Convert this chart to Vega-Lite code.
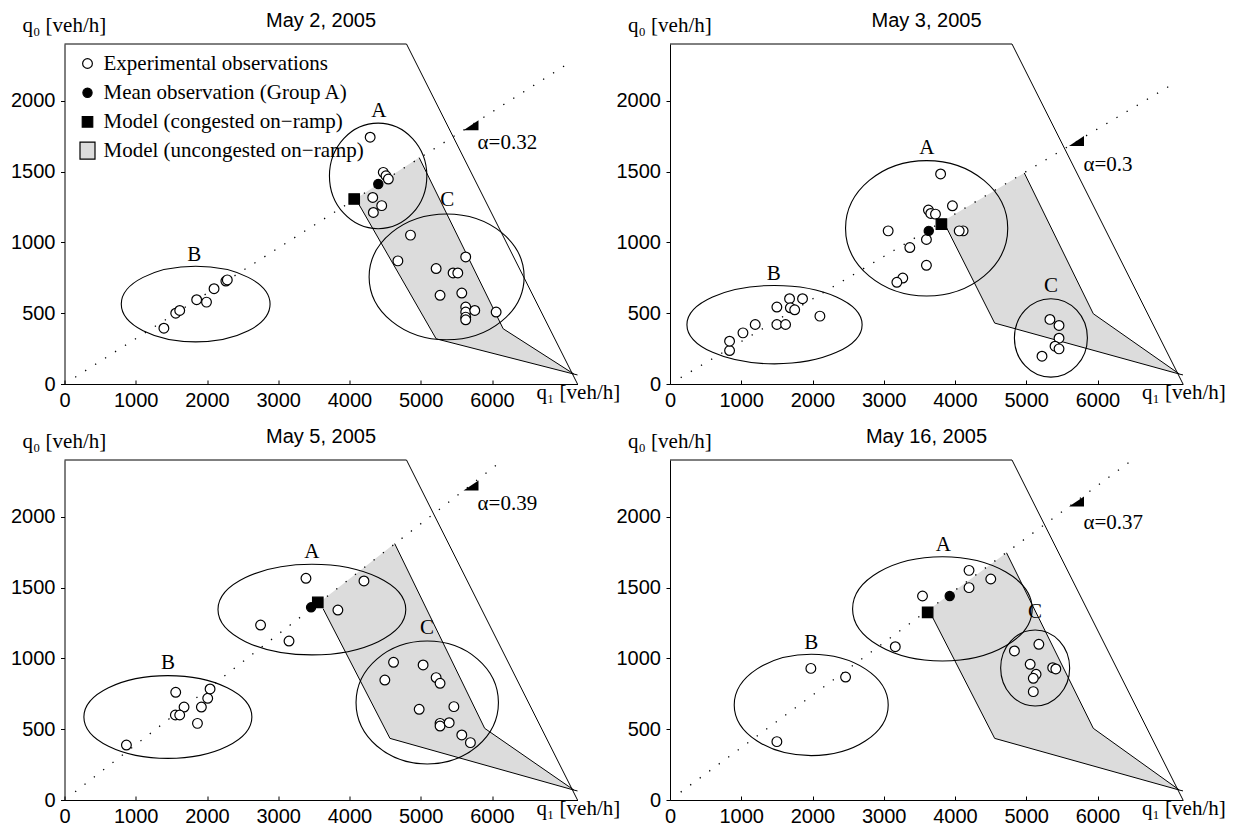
{
"$schema": "https://vega.github.io/schema/vega-lite/v6.json",
"padding": {"left": 10.5, "top": 11, "right": 5, "bottom": 3},
"background": "white",
"config": {
  "view": {"stroke": null},
  "font": "Liberation Sans",
  "axis": {"grid": false, "domainColor": "black", "domainWidth": 1, "tickColor": "black", "tickWidth": 1, "labelColor": "black", "labelFont": "Liberation Sans", "labelFontSize": 20, "labelFlush": false, "labelOverlap": false, "titleColor": "black", "titleFont": "Liberation Serif", "titleFontSize": 21, "titleFontWeight": "normal", "format": "d"}
},
"data": {"values": [
{"p":"May 2, 2005","t":"reg","o":1,"x":4100,"y":1312},{"p":"May 2, 2005","t":"reg","o":2,"x":4978,"y":1598},{"p":"May 2, 2005","t":"reg","o":3,"x":6157,"y":390},{"p":"May 2, 2005","t":"reg","o":4,"x":7150,"y":70},{"p":"May 2, 2005","t":"reg","o":5,"x":5216,"y":319},{"p":"May 2, 2005","t":"reg","o":6,"x":4130,"y":1270},
{"p":"May 3, 2005","t":"reg","o":1,"x":3830,"y":1149},{"p":"May 3, 2005","t":"reg","o":2,"x":4972,"y":1490},{"p":"May 3, 2005","t":"reg","o":3,"x":5941,"y":496},{"p":"May 3, 2005","t":"reg","o":4,"x":7150,"y":70},{"p":"May 3, 2005","t":"reg","o":5,"x":4557,"y":430},{"p":"May 3, 2005","t":"reg","o":6,"x":3880,"y":1105},
{"p":"May 5, 2005","t":"reg","o":1,"x":3590,"y":1400},{"p":"May 5, 2005","t":"reg","o":2,"x":4634,"y":1810},{"p":"May 5, 2005","t":"reg","o":3,"x":5897,"y":506},{"p":"May 5, 2005","t":"reg","o":4,"x":7150,"y":70},{"p":"May 5, 2005","t":"reg","o":5,"x":4568,"y":435},{"p":"May 5, 2005","t":"reg","o":6,"x":3630,"y":1350},
{"p":"May 16, 2005","t":"reg","o":1,"x":3650,"y":1350},{"p":"May 16, 2005","t":"reg","o":2,"x":4723,"y":1745},{"p":"May 16, 2005","t":"reg","o":3,"x":5941,"y":506},{"p":"May 16, 2005","t":"reg","o":4,"x":7150,"y":70},{"p":"May 16, 2005","t":"reg","o":5,"x":4557,"y":435},{"p":"May 16, 2005","t":"reg","o":6,"x":3690,"y":1285},

{"p":"May 2, 2005","t":"ln","s":"f","o":1,"x":0,"y":2400},{"p":"May 2, 2005","t":"ln","s":"f","o":2,"x":4800,"y":2400},{"p":"May 2, 2005","t":"ln","s":"f","o":3,"x":7200,"y":0},
{"p":"May 2, 2005","t":"ln","s":"lo","o":1,"x":4130,"y":1270},{"p":"May 2, 2005","t":"ln","s":"lo","o":2,"x":5216,"y":319},{"p":"May 2, 2005","t":"ln","s":"lo","o":3,"x":7150,"y":70},{"p":"May 2, 2005","t":"ln","s":"lo","o":4,"x":7200,"y":64},
{"p":"May 2, 2005","t":"ln","s":"up","o":1,"x":4978,"y":1598},{"p":"May 2, 2005","t":"ln","s":"up","o":2,"x":6157,"y":390},{"p":"May 2, 2005","t":"ln","s":"up","o":3,"x":7150,"y":70},
{"p":"May 3, 2005","t":"ln","s":"f","o":1,"x":0,"y":2400},{"p":"May 3, 2005","t":"ln","s":"f","o":2,"x":4800,"y":2400},{"p":"May 3, 2005","t":"ln","s":"f","o":3,"x":7200,"y":0},
{"p":"May 3, 2005","t":"ln","s":"lo","o":1,"x":3880,"y":1105},{"p":"May 3, 2005","t":"ln","s":"lo","o":2,"x":4557,"y":430},{"p":"May 3, 2005","t":"ln","s":"lo","o":3,"x":7150,"y":70},{"p":"May 3, 2005","t":"ln","s":"lo","o":4,"x":7200,"y":64},
{"p":"May 3, 2005","t":"ln","s":"up","o":1,"x":4972,"y":1490},{"p":"May 3, 2005","t":"ln","s":"up","o":2,"x":5941,"y":496},{"p":"May 3, 2005","t":"ln","s":"up","o":3,"x":7150,"y":70},
{"p":"May 5, 2005","t":"ln","s":"f","o":1,"x":0,"y":2400},{"p":"May 5, 2005","t":"ln","s":"f","o":2,"x":4800,"y":2400},{"p":"May 5, 2005","t":"ln","s":"f","o":3,"x":7200,"y":0},
{"p":"May 5, 2005","t":"ln","s":"lo","o":1,"x":3630,"y":1350},{"p":"May 5, 2005","t":"ln","s":"lo","o":2,"x":4568,"y":435},{"p":"May 5, 2005","t":"ln","s":"lo","o":3,"x":7150,"y":70},{"p":"May 5, 2005","t":"ln","s":"lo","o":4,"x":7200,"y":64},
{"p":"May 5, 2005","t":"ln","s":"up","o":1,"x":4634,"y":1810},{"p":"May 5, 2005","t":"ln","s":"up","o":2,"x":5897,"y":506},{"p":"May 5, 2005","t":"ln","s":"up","o":3,"x":7150,"y":70},
{"p":"May 16, 2005","t":"ln","s":"f","o":1,"x":0,"y":2400},{"p":"May 16, 2005","t":"ln","s":"f","o":2,"x":4800,"y":2400},{"p":"May 16, 2005","t":"ln","s":"f","o":3,"x":7200,"y":0},
{"p":"May 16, 2005","t":"ln","s":"lo","o":1,"x":3690,"y":1285},{"p":"May 16, 2005","t":"ln","s":"lo","o":2,"x":4557,"y":435},{"p":"May 16, 2005","t":"ln","s":"lo","o":3,"x":7150,"y":70},{"p":"May 16, 2005","t":"ln","s":"lo","o":4,"x":7200,"y":64},
{"p":"May 16, 2005","t":"ln","s":"up","o":1,"x":4723,"y":1745},{"p":"May 16, 2005","t":"ln","s":"up","o":2,"x":5941,"y":506},{"p":"May 16, 2005","t":"ln","s":"up","o":3,"x":7150,"y":70},

{"p":"May 2, 2005","t":"diag","o":1,"x":150,"y":48},{"p":"May 2, 2005","t":"diag","o":2,"x":7100,"y":2272},
{"p":"May 3, 2005","t":"diag","o":1,"x":150,"y":45},{"p":"May 3, 2005","t":"diag","o":2,"x":7100,"y":2130},
{"p":"May 5, 2005","t":"diag","o":1,"x":150,"y":58.5},{"p":"May 5, 2005","t":"diag","o":2,"x":7100,"y":2769},
{"p":"May 16, 2005","t":"diag","o":1,"x":150,"y":55.5},{"p":"May 16, 2005","t":"diag","o":2,"x":7100,"y":2627},

{"p":"May 2, 2005","t":"ell","e":"A1","x":4402,"y":1469},{"p":"May 2, 2005","t":"ell","e":"B1","x":1841,"y":564},{"p":"May 2, 2005","t":"ell","e":"C1","x":5363,"y":756},
{"p":"May 3, 2005","t":"ell","e":"A2","x":3602,"y":1099},{"p":"May 3, 2005","t":"ell","e":"B2","x":1467,"y":419},{"p":"May 3, 2005","t":"ell","e":"C2","x":5346,"y":325},
{"p":"May 5, 2005","t":"ell","e":"A3","x":3472,"y":1344},{"p":"May 5, 2005","t":"ell","e":"B3","x":1451,"y":586},{"p":"May 5, 2005","t":"ell","e":"C3","x":5091,"y":688},
{"p":"May 16, 2005","t":"ell","e":"A4","x":3823,"y":1349},{"p":"May 16, 2005","t":"ell","e":"B4","x":1982,"y":671},{"p":"May 16, 2005","t":"ell","e":"C4","x":5125,"y":932},

{"p":"May 2, 2005","t":"obs","k":"Experimental observations","x":1395,"y":394},
{"p":"May 2, 2005","t":"obs","k":"Experimental observations","x":1561,"y":500},
{"p":"May 2, 2005","t":"obs","k":"Experimental observations","x":1617,"y":519},
{"p":"May 2, 2005","t":"obs","k":"Experimental observations","x":1855,"y":595},
{"p":"May 2, 2005","t":"obs","k":"Experimental observations","x":1993,"y":578},
{"p":"May 2, 2005","t":"obs","k":"Experimental observations","x":2099,"y":673},
{"p":"May 2, 2005","t":"obs","k":"Experimental observations","x":2265,"y":727},
{"p":"May 2, 2005","t":"obs","k":"Experimental observations","x":2285,"y":735},
{"p":"May 2, 2005","t":"obs","k":"Experimental observations","x":4290,"y":1742},
{"p":"May 2, 2005","t":"obs","k":"Experimental observations","x":4474,"y":1494},
{"p":"May 2, 2005","t":"obs","k":"Experimental observations","x":4512,"y":1470},
{"p":"May 2, 2005","t":"obs","k":"Experimental observations","x":4545,"y":1447},
{"p":"May 2, 2005","t":"obs","k":"Experimental observations","x":4326,"y":1317},
{"p":"May 2, 2005","t":"obs","k":"Experimental observations","x":4452,"y":1259},
{"p":"May 2, 2005","t":"obs","k":"Experimental observations","x":4335,"y":1211},
{"p":"May 2, 2005","t":"obs","k":"Experimental observations","x":4856,"y":1051},
{"p":"May 2, 2005","t":"obs","k":"Experimental observations","x":4679,"y":869},
{"p":"May 2, 2005","t":"obs","k":"Experimental observations","x":5216,"y":815},
{"p":"May 2, 2005","t":"obs","k":"Experimental observations","x":5631,"y":897},
{"p":"May 2, 2005","t":"obs","k":"Experimental observations","x":5454,"y":784},
{"p":"May 2, 2005","t":"obs","k":"Experimental observations","x":5520,"y":784},
{"p":"May 2, 2005","t":"obs","k":"Experimental observations","x":5271,"y":626},
{"p":"May 2, 2005","t":"obs","k":"Experimental observations","x":5576,"y":642},
{"p":"May 2, 2005","t":"obs","k":"Experimental observations","x":5631,"y":543},
{"p":"May 2, 2005","t":"obs","k":"Experimental observations","x":5631,"y":508},
{"p":"May 2, 2005","t":"obs","k":"Experimental observations","x":5631,"y":472},
{"p":"May 2, 2005","t":"obs","k":"Experimental observations","x":5631,"y":453},
{"p":"May 2, 2005","t":"obs","k":"Experimental observations","x":5758,"y":519},
{"p":"May 2, 2005","t":"obs","k":"Experimental observations","x":6058,"y":508},
{"p":"May 2, 2005","t":"obs","k":"Mean observation (Group A)","x":4404,"y":1412},
{"p":"May 2, 2005","t":"obs","k":"Model (congested on−ramp)","x":4066,"y":1306},

{"p":"May 3, 2005","t":"obs","k":"Experimental observations","x":836,"y":236},
{"p":"May 3, 2005","t":"obs","k":"Experimental observations","x":836,"y":302},
{"p":"May 3, 2005","t":"obs","k":"Experimental observations","x":1024,"y":361},
{"p":"May 3, 2005","t":"obs","k":"Experimental observations","x":1196,"y":420},
{"p":"May 3, 2005","t":"obs","k":"Experimental observations","x":1500,"y":543},
{"p":"May 3, 2005","t":"obs","k":"Experimental observations","x":1500,"y":420},
{"p":"May 3, 2005","t":"obs","k":"Experimental observations","x":1622,"y":420},
{"p":"May 3, 2005","t":"obs","k":"Experimental observations","x":1678,"y":602},
{"p":"May 3, 2005","t":"obs","k":"Experimental observations","x":1689,"y":538},
{"p":"May 3, 2005","t":"obs","k":"Experimental observations","x":1750,"y":524},
{"p":"May 3, 2005","t":"obs","k":"Experimental observations","x":1860,"y":602},
{"p":"May 3, 2005","t":"obs","k":"Experimental observations","x":2104,"y":479},
{"p":"May 3, 2005","t":"obs","k":"Experimental observations","x":3798,"y":1483},
{"p":"May 3, 2005","t":"obs","k":"Experimental observations","x":3964,"y":1258},
{"p":"May 3, 2005","t":"obs","k":"Experimental observations","x":3627,"y":1228},
{"p":"May 3, 2005","t":"obs","k":"Experimental observations","x":3660,"y":1204},
{"p":"May 3, 2005","t":"obs","k":"Experimental observations","x":3726,"y":1199},
{"p":"May 3, 2005","t":"obs","k":"Experimental observations","x":3062,"y":1081},
{"p":"May 3, 2005","t":"obs","k":"Experimental observations","x":4114,"y":1081},
{"p":"May 3, 2005","t":"obs","k":"Experimental observations","x":4059,"y":1081},
{"p":"May 3, 2005","t":"obs","k":"Experimental observations","x":3599,"y":1020},
{"p":"May 3, 2005","t":"obs","k":"Experimental observations","x":3366,"y":963},
{"p":"May 3, 2005","t":"obs","k":"Experimental observations","x":3599,"y":838},
{"p":"May 3, 2005","t":"obs","k":"Experimental observations","x":3267,"y":748},
{"p":"May 3, 2005","t":"obs","k":"Experimental observations","x":3184,"y":718},
{"p":"May 3, 2005","t":"obs","k":"Experimental observations","x":5332,"y":456},
{"p":"May 3, 2005","t":"obs","k":"Experimental observations","x":5460,"y":413},
{"p":"May 3, 2005","t":"obs","k":"Experimental observations","x":5460,"y":323},
{"p":"May 3, 2005","t":"obs","k":"Experimental observations","x":5404,"y":267},
{"p":"May 3, 2005","t":"obs","k":"Experimental observations","x":5460,"y":248},
{"p":"May 3, 2005","t":"obs","k":"Experimental observations","x":5221,"y":196},
{"p":"May 3, 2005","t":"obs","k":"Mean observation (Group A)","x":3632,"y":1081},
{"p":"May 3, 2005","t":"obs","k":"Model (congested on−ramp)","x":3809,"y":1129},

{"p":"May 5, 2005","t":"obs","k":"Experimental observations","x":869,"y":388},
{"p":"May 5, 2005","t":"obs","k":"Experimental observations","x":1561,"y":760},
{"p":"May 5, 2005","t":"obs","k":"Experimental observations","x":1678,"y":656},
{"p":"May 5, 2005","t":"obs","k":"Experimental observations","x":1556,"y":600},
{"p":"May 5, 2005","t":"obs","k":"Experimental observations","x":1617,"y":600},
{"p":"May 5, 2005","t":"obs","k":"Experimental observations","x":1866,"y":541},
{"p":"May 5, 2005","t":"obs","k":"Experimental observations","x":1921,"y":656},
{"p":"May 5, 2005","t":"obs","k":"Experimental observations","x":2010,"y":718},
{"p":"May 5, 2005","t":"obs","k":"Experimental observations","x":2043,"y":784},
{"p":"May 5, 2005","t":"obs","k":"Experimental observations","x":3389,"y":1565},
{"p":"May 5, 2005","t":"obs","k":"Experimental observations","x":4203,"y":1546},
{"p":"May 5, 2005","t":"obs","k":"Experimental observations","x":2752,"y":1235},
{"p":"May 5, 2005","t":"obs","k":"Experimental observations","x":3151,"y":1122},
{"p":"May 5, 2005","t":"obs","k":"Experimental observations","x":3837,"y":1341},
{"p":"May 5, 2005","t":"obs","k":"Experimental observations","x":4618,"y":972},
{"p":"May 5, 2005","t":"obs","k":"Experimental observations","x":4496,"y":847},
{"p":"May 5, 2005","t":"obs","k":"Experimental observations","x":5033,"y":953},
{"p":"May 5, 2005","t":"obs","k":"Experimental observations","x":5216,"y":864},
{"p":"May 5, 2005","t":"obs","k":"Experimental observations","x":5271,"y":824},
{"p":"May 5, 2005","t":"obs","k":"Experimental observations","x":4978,"y":640},
{"p":"May 5, 2005","t":"obs","k":"Experimental observations","x":5465,"y":659},
{"p":"May 5, 2005","t":"obs","k":"Experimental observations","x":5271,"y":541},
{"p":"May 5, 2005","t":"obs","k":"Experimental observations","x":5271,"y":522},
{"p":"May 5, 2005","t":"obs","k":"Experimental observations","x":5399,"y":546},
{"p":"May 5, 2005","t":"obs","k":"Experimental observations","x":5576,"y":459},
{"p":"May 5, 2005","t":"obs","k":"Experimental observations","x":5697,"y":405},
{"p":"May 5, 2005","t":"obs","k":"Mean observation (Group A)","x":3461,"y":1360},
{"p":"May 5, 2005","t":"obs","k":"Model (congested on−ramp)","x":3555,"y":1395},

{"p":"May 16, 2005","t":"obs","k":"Experimental observations","x":1500,"y":412},
{"p":"May 16, 2005","t":"obs","k":"Experimental observations","x":1977,"y":929},
{"p":"May 16, 2005","t":"obs","k":"Experimental observations","x":2464,"y":868},
{"p":"May 16, 2005","t":"obs","k":"Experimental observations","x":3162,"y":1082},
{"p":"May 16, 2005","t":"obs","k":"Experimental observations","x":3544,"y":1440},
{"p":"May 16, 2005","t":"obs","k":"Experimental observations","x":4197,"y":1621},
{"p":"May 16, 2005","t":"obs","k":"Experimental observations","x":4197,"y":1499},
{"p":"May 16, 2005","t":"obs","k":"Experimental observations","x":4502,"y":1560},
{"p":"May 16, 2005","t":"obs","k":"Experimental observations","x":4834,"y":1052},
{"p":"May 16, 2005","t":"obs","k":"Experimental observations","x":5177,"y":1099},
{"p":"May 16, 2005","t":"obs","k":"Experimental observations","x":5055,"y":958},
{"p":"May 16, 2005","t":"obs","k":"Experimental observations","x":5138,"y":887},
{"p":"May 16, 2005","t":"obs","k":"Experimental observations","x":5099,"y":859},
{"p":"May 16, 2005","t":"obs","k":"Experimental observations","x":5099,"y":765},
{"p":"May 16, 2005","t":"obs","k":"Experimental observations","x":5371,"y":934},
{"p":"May 16, 2005","t":"obs","k":"Experimental observations","x":5415,"y":925},
{"p":"May 16, 2005","t":"obs","k":"Mean observation (Group A)","x":3926,"y":1440},
{"p":"May 16, 2005","t":"obs","k":"Model (congested on−ramp)","x":3616,"y":1325},

{"p":"May 2, 2005","t":"tri","x":5600,"y":1792},{"p":"May 3, 2005","t":"tri","x":5600,"y":1680},{"p":"May 5, 2005","t":"tri","x":5600,"y":2184},{"p":"May 16, 2005","t":"tri","x":5600,"y":2072},

{"p":"May 2, 2005","t":"al","txt":"α=0.32","x":5797,"y":1700},
{"p":"May 3, 2005","t":"al","txt":"α=0.3","x":5803,"y":1546},
{"p":"May 5, 2005","t":"al","txt":"α=0.39","x":5797,"y":2087},
{"p":"May 16, 2005","t":"al","txt":"α=0.37","x":5803,"y":1953},

{"p":"May 2, 2005","t":"lab","txt":"A","x":4413,"y":1924},{"p":"May 2, 2005","t":"lab","txt":"B","x":1822,"y":909},{"p":"May 2, 2005","t":"lab","txt":"C","x":5371,"y":1299},
{"p":"May 3, 2005","t":"lab","txt":"A","x":3605,"y":1664},{"p":"May 3, 2005","t":"lab","txt":"B","x":1456,"y":779},{"p":"May 3, 2005","t":"lab","txt":"C","x":5349,"y":692},
{"p":"May 5, 2005","t":"lab","txt":"A","x":3472,"y":1753},{"p":"May 5, 2005","t":"lab","txt":"B","x":1451,"y":965},{"p":"May 5, 2005","t":"lab","txt":"C","x":5088,"y":1212},
{"p":"May 16, 2005","t":"lab","txt":"A","x":3837,"y":1800},{"p":"May 16, 2005","t":"lab","txt":"B","x":1982,"y":1106},{"p":"May 16, 2005","t":"lab","txt":"C","x":5122,"y":1329}
]},
"facet": {"field": "p", "type": "nominal", "sort": ["May 2, 2005", "May 3, 2005", "May 5, 2005", "May 16, 2005"],
  "header": {"title": null, "labelFont": "Liberation Sans", "labelFontSize": 20, "labelColor": "black", "labelPadding": -33, "labelBaseline": "alphabetic"}},
"columns": 2,
"spacing": {"row": 76, "column": 92.5},
"bounds": "flush",
"resolve": {"axis": {"x": "independent", "y": "independent"}},
"spec": {
  "width": 513,
  "height": 340,
  "encoding": {
    "x": {"field": "x", "type": "quantitative", "scale": {"domain": [0, 7200], "nice": false, "zero": false},
      "axis": {"values": [0, 1000, 2000, 3000, 4000, 5000, 6000], "tickSize": -4, "labelPadding": 26, "labelBaseline": "alphabetic", "title": "q₁ [veh/h]", "titleAlign": "left", "titleBaseline": "alphabetic", "titleX": 471.5, "titleY": 14}},
    "y": {"field": "y", "type": "quantitative", "scale": {"domain": [0, 2400], "nice": false, "zero": false},
      "axis": {"values": [0, 500, 1000, 1500, 2000], "tickSize": 4, "labelPadding": 5.5, "title": "q₀ [veh/h]", "titleAngle": 0, "titleAlign": "left", "titleBaseline": "alphabetic", "titleX": -42.5, "titleY": -13}}
  },
  "layer": [
    {"transform": [{"filter": "datum.t === 'reg'"}],
     "mark": {"type": "line", "fill": "#dcdcdc", "strokeOpacity": 0},
     "encoding": {"order": {"field": "o", "type": "quantitative"}}},
    {"transform": [{"filter": "datum.t === 'ln'"}],
     "mark": {"type": "line", "color": "black", "strokeWidth": 1},
     "encoding": {"detail": {"field": "s", "type": "nominal"}, "order": {"field": "o", "type": "quantitative"}}},
    {"transform": [{"filter": "datum.t === 'diag'"}],
     "mark": {"type": "line", "color": "black", "strokeWidth": 1.3, "strokeDash": [1.3, 10.5], "clip": true},
     "encoding": {"order": {"field": "o", "type": "quantitative"}}},
    {"transform": [{"filter": "datum.e === 'A1'"}], "mark": {"type": "point", "shape": "M -48.7 0 A 48.7 52.8 0 1 0 48.7 0 A 48.7 52.8 0 1 0 -48.7 0 Z", "filled": false, "stroke": "black", "strokeWidth": 1.1, "size": 4, "opacity": 1}},
    {"transform": [{"filter": "datum.e === 'B1'"}], "mark": {"type": "point", "shape": "M -74.4 0 A 74.4 37.8 0 1 0 74.4 0 A 74.4 37.8 0 1 0 -74.4 0 Z", "filled": false, "stroke": "black", "strokeWidth": 1.1, "size": 4, "opacity": 1}},
    {"transform": [{"filter": "datum.e === 'C1'"}], "mark": {"type": "point", "shape": "M -77.5 0 A 77.5 62.9 0 1 0 77.5 0 A 77.5 62.9 0 1 0 -77.5 0 Z", "filled": false, "stroke": "black", "strokeWidth": 1.1, "size": 4, "opacity": 1}},
    {"transform": [{"filter": "datum.e === 'A2'"}], "mark": {"type": "point", "shape": "M -81.1 0 A 81.1 67.7 0 1 0 81.1 0 A 81.1 67.7 0 1 0 -81.1 0 Z", "filled": false, "stroke": "black", "strokeWidth": 1.1, "size": 4, "opacity": 1}},
    {"transform": [{"filter": "datum.e === 'B2'"}], "mark": {"type": "point", "shape": "M -87.6 0 A 87.6 39.2 0 1 0 87.6 0 A 87.6 39.2 0 1 0 -87.6 0 Z", "filled": false, "stroke": "black", "strokeWidth": 1.1, "size": 4, "opacity": 1}},
    {"transform": [{"filter": "datum.e === 'C2'"}], "mark": {"type": "point", "shape": "M -36.5 0 A 36.5 39.2 0 1 0 36.5 0 A 36.5 39.2 0 1 0 -36.5 0 Z", "filled": false, "stroke": "black", "strokeWidth": 1.1, "size": 4, "opacity": 1}},
    {"transform": [{"filter": "datum.e === 'A3'"}], "mark": {"type": "point", "shape": "M -93.9 0 A 93.9 45.3 0 1 0 93.9 0 A 93.9 45.3 0 1 0 -93.9 0 Z", "filled": false, "stroke": "black", "strokeWidth": 1.1, "size": 4, "opacity": 1}},
    {"transform": [{"filter": "datum.e === 'B3'"}], "mark": {"type": "point", "shape": "M -84 0 A 84 41.4 0 1 0 84 0 A 84 41.4 0 1 0 -84 0 Z", "filled": false, "stroke": "black", "strokeWidth": 1.1, "size": 4, "opacity": 1}},
    {"transform": [{"filter": "datum.e === 'C3'"}], "mark": {"type": "point", "shape": "M -71.2 0 A 71.2 61.5 0 1 0 71.2 0 A 71.2 61.5 0 1 0 -71.2 0 Z", "filled": false, "stroke": "black", "strokeWidth": 1.1, "size": 4, "opacity": 1}},
    {"transform": [{"filter": "datum.e === 'A4'"}], "mark": {"type": "point", "shape": "M -89.8 0 A 89.8 52.1 0 1 0 89.8 0 A 89.8 52.1 0 1 0 -89.8 0 Z", "filled": false, "stroke": "black", "strokeWidth": 1.1, "size": 4, "opacity": 1}},
    {"transform": [{"filter": "datum.e === 'B4'"}], "mark": {"type": "point", "shape": "M -77 0 A 77 50.7 0 1 0 77 0 A 77 50.7 0 1 0 -77 0 Z", "filled": false, "stroke": "black", "strokeWidth": 1.1, "size": 4, "opacity": 1}},
    {"transform": [{"filter": "datum.e === 'C4'"}], "mark": {"type": "point", "shape": "M -34.5 0 A 34.5 38 0 1 0 34.5 0 A 34.5 38 0 1 0 -34.5 0 Z", "filled": false, "stroke": "black", "strokeWidth": 1.1, "size": 4, "opacity": 1}},
    {"transform": [{"filter": "datum.t === 'obs'"}],
     "mark": {"type": "point", "filled": true, "stroke": "black", "strokeWidth": 1.2, "opacity": 1},
     "encoding": {
       "shape": {"field": "k", "type": "nominal",
         "scale": {"domain": ["Experimental observations", "Mean observation (Group A)", "Model (congested on−ramp)", "Model (uncongested on−ramp)"], "range": ["circle", "circle", "square", "M -0.75 -0.85 L 0.75 -0.85 L 0.75 0.85 L -0.75 0.85 Z"]},
         "legend": {"orient": "none", "legendX": 12, "legendY": 9, "title": null, "labelFont": "Liberation Serif", "labelFontSize": 21, "labelColor": "black", "labelOffset": 5, "labelLimit": 500, "rowPadding": 7.2, "padding": 0, "symbolStrokeColor": "black", "symbolStrokeWidth": 1.2, "symbolOpacity": 1}},
       "fill": {"field": "k", "type": "nominal",
         "scale": {"domain": ["Experimental observations", "Mean observation (Group A)", "Model (congested on−ramp)", "Model (uncongested on−ramp)"], "range": ["white", "black", "black", "#dcdcdc"]},
         "legend": {"orient": "none", "legendX": 12, "legendY": 9, "title": null, "labelFont": "Liberation Serif", "labelFontSize": 21, "labelColor": "black", "labelOffset": 5, "labelLimit": 500, "rowPadding": 7.2, "padding": 0, "symbolStrokeColor": "black", "symbolStrokeWidth": 1.2, "symbolOpacity": 1}},
       "stroke": {"field": "k", "type": "nominal",
         "scale": {"domain": ["Experimental observations", "Mean observation (Group A)", "Model (congested on−ramp)", "Model (uncongested on−ramp)"], "range": ["black", "black", "black", "black"]},
         "legend": {"orient": "none", "legendX": 12, "legendY": 9, "title": null, "labelFont": "Liberation Serif", "labelFontSize": 21, "labelColor": "black", "labelOffset": 5, "labelLimit": 500, "rowPadding": 7.2, "padding": 0, "symbolStrokeColor": "black", "symbolStrokeWidth": 1.2, "symbolOpacity": 1}},
       "size": {"field": "k", "type": "nominal",
         "scale": {"type": "ordinal", "domain": ["Experimental observations", "Mean observation (Group A)", "Model (congested on−ramp)", "Model (uncongested on−ramp)"], "range": [95, 85, 110, 400]},
         "legend": {"orient": "none", "legendX": 12, "legendY": 9, "title": null, "labelFont": "Liberation Serif", "labelFontSize": 21, "labelColor": "black", "labelOffset": 5, "labelLimit": 500, "rowPadding": 7.2, "padding": 0, "symbolStrokeColor": "black", "symbolStrokeWidth": 1.2, "symbolOpacity": 1}}
     }},
    {"transform": [{"filter": "datum.t === 'tri'"}],
     "mark": {"type": "point", "shape": "M 0 0 L 15 0 L 15 -10 Z", "filled": true, "fill": "black", "strokeOpacity": 0, "size": 4, "opacity": 1}},
    {"transform": [{"filter": "datum.t === 'lab'"}],
     "mark": {"type": "text", "font": "Liberation Serif", "fontSize": 21, "color": "black", "align": "center", "baseline": "middle"},
     "encoding": {"text": {"field": "txt", "type": "nominal"}}},
    {"transform": [{"filter": "datum.t === 'al'"}],
     "mark": {"type": "text", "font": "Liberation Serif", "fontSize": 21, "color": "black", "align": "left", "baseline": "middle"},
     "encoding": {"text": {"field": "txt", "type": "nominal"}}}
  ]
}
}
